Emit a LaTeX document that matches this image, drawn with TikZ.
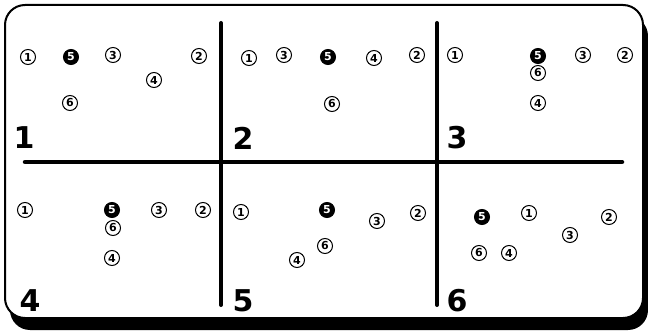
\documentclass[tikz,border=0pt]{standalone}
\usepackage{fontspec}
\setmainfont{DejaVu Sans}
\begin{document}
\begin{tikzpicture}[x=1pt,y=-1pt,
  cn/.style={circle,draw=black,line width=1pt,minimum size=15pt,inner sep=0pt,
    font=\fontsize{11}{11}\selectfont\bfseries},
  cf/.style={cn,fill=black,text=white},
  pnum/.style={inner sep=0pt,font=\fontsize{30}{30}\selectfont\bfseries},
  divider/.style={line width=4.5pt,line cap=round}]
\useasboundingbox (0,0) rectangle (648,331);
% frame with shadow
\fill[black,rounded corners=20pt] (10,16) rectangle (648,330);
\draw[line width=2pt,fill=white,rounded corners=20pt] (5,5) rectangle (643,318);
% dividers
\coordinate (hl) at (25,162);
\coordinate (hr) at (622,162);
\coordinate (v1t) at (221,23);
\coordinate (v1b) at (221,305);
\coordinate (v2t) at (437,23);
\coordinate (v2b) at (437,305);
\draw[divider] (hl) -- (hr);
\draw[divider,line width=4pt] (v1t) -- (v1b);
\draw[divider,line width=4pt] (v2t) -- (v2b);
% panel numbers
\node[pnum] (n1) at (24,138) {1};
\node[pnum] (n2) at (243,138) {2};
\node[pnum] (n3) at (457,138) {3};
\node[pnum] (n4) at (30,301) {4};
\node[pnum] (n5) at (243,301) {5};
\node[pnum] (n6) at (457,301) {6};
% panel 1
\node[cn] (a1) at (28,57) {1};
\node[cf] (a5) at (71,57) {5};
\node[cn] (a3) at (113,55) {3};
\node[cn] (a2) at (199,56) {2};
\node[cn] (a4) at (154,80) {4};
\node[cn] (a6) at (70,103) {6};
% panel 2
\node[cn] (b1) at (249,58) {1};
\node[cn] (b3) at (284,55) {3};
\node[cf] (b5) at (328,57) {5};
\node[cn] (b4) at (374,58) {4};
\node[cn] (b2) at (417,55) {2};
\node[cn] (b6) at (332,104) {6};
% panel 3
\node[cn] (c1) at (455,55) {1};
\node[cf] (c5) at (538,56) {5};
\node[cn] (c6) at (538,73) {6};
\node[cn] (c3) at (583,55) {3};
\node[cn] (c2) at (625,55) {2};
\node[cn] (c4) at (538,103) {4};
% panel 4
\node[cn] (d1) at (25,210) {1};
\node[cf] (d5) at (112,210) {5};
\node[cn] (d6) at (113,228) {6};
\node[cn] (d3) at (159,210) {3};
\node[cn] (d2) at (203,210) {2};
\node[cn] (d4) at (112,258) {4};
% panel 5
\node[cn] (e1) at (241,212) {1};
\node[cf] (e5) at (327,210) {5};
\node[cn] (e3) at (377,221) {3};
\node[cn] (e2) at (418,213) {2};
\node[cn] (e6) at (325,246) {6};
\node[cn] (e4) at (297,260) {4};
% panel 6
\node[cf] (f5) at (482,217) {5};
\node[cn] (f1) at (529,213) {1};
\node[cn] (f2) at (609,217) {2};
\node[cn] (f3) at (570,235) {3};
\node[cn] (f6) at (479,253) {6};
\node[cn] (f4) at (509,253) {4};
\end{tikzpicture}
\end{document}
